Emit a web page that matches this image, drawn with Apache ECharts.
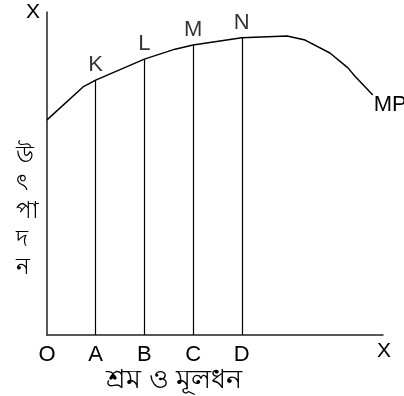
<!DOCTYPE html>
<html>
<head>
<meta charset="utf-8">
<script src="https://cdn.jsdelivr.net/npm/echarts@6/dist/echarts.min.js"></script>
<style>
html,body{margin:0;padding:0;background:#fff;}
#chart{width:404px;height:396px;}
</style>
</head>
<body>
<div id="chart"></div>
<script>
// উৎপাদন রেখা (MP) এর বিন্দুগুলি
var curveX = [0, 0.74, 1, 2, 2.63, 3, 4, 4.93, 5.3, 5.81, 6.18, 6.32, 6.69];
var curveY = [66.6, 76.8, 78.9, 85.4, 88.5, 89.8, 92.0, 92.6, 91.3, 87.3, 82.7, 80.2, 74.3];

// K L M N বিন্দু
var pointNames = ['K', 'L', 'M', 'N'];
var pointX = [1, 2, 3, 4];
var pointY = [78.9, 85.4, 89.8, 92.0];

// x অক্ষের লেবেল
var tickLabels = ['O', 'A', 'B', 'C', 'D'];

var yTitle = ['উ', 'ৎ', 'পা', 'দ', 'ন'];
var xTitle = 'শ্রম ও মূলধন';

var font = 'Liberation Sans, Arial, sans-serif';

var curveData = [];
for (var i = 0; i < curveX.length; i++) {
	curveData.push([curveX[i], curveY[i]]);
}

var dropLines = [];
var pointData = [];
for (var j = 0; j < pointX.length; j++) {
	dropLines.push([{coord: [pointX[j], 0]}, {coord: [pointX[j], pointY[j]]}]);
	pointData.push({value: [pointX[j], pointY[j]], name: pointNames[j]});
}

var chart = echarts.init(document.getElementById('chart'));
var option = {
	animation: false,
	title: [{
		text: yTitle.join('\n'),
		left: 11,
		top: 137,
		textStyle: {fontSize: 23, fontWeight: 'normal', color: '#000', lineHeight: 28}
	}, {
		text: xTitle,
		left: 101,
		top: 362,
		textStyle: {fontSize: 27, fontWeight: 'normal', color: '#000'}
	}],
	grid: {left: 47, right: 21, top: 12, bottom: 61},
	xAxis: {
		type: 'value',
		min: 0,
		max: 6.9,
		interval: 1,
		splitLine: {show: false},
		axisTick: {show: false},
		axisLine: {lineStyle: {color: '#222', width: 1.5}},
		axisLabel: {
			margin: 9,
			showMaxLabel: false,
			fontSize: 22,
			fontFamily: font,
			color: '#000',
			formatter: function (v) { return tickLabels[v] || ''; }
		},
		name: 'X',
		nameLocation: 'end',
		nameGap: 1,
		nameTextStyle: {fontSize: 21, fontFamily: font, color: '#000', align: 'center', verticalAlign: 'top', padding: [6, 0, 0, 0]}
	},
	yAxis: {
		type: 'value',
		min: 0,
		max: 100,
		splitLine: {show: false},
		axisTick: {show: false},
		axisLabel: {show: false},
		axisLine: {show: true, lineStyle: {color: '#222', width: 1.5}},
		name: 'X',
		nameLocation: 'end',
		nameGap: 0,
		nameTextStyle: {fontSize: 21, fontFamily: font, color: '#000', align: 'right', verticalAlign: 'middle', padding: [0, 7, 0, 0]}
	},
	series: [{
		type: 'line',
		data: curveData,
		symbol: 'none',
		lineStyle: {color: '#000', width: 1.5},
		endLabel: {show: true, formatter: 'MP', fontSize: 22, fontFamily: font, color: '#000', offset: [-7, 10]},
		markLine: {
			silent: true,
			symbol: 'none',
			label: {show: false},
			lineStyle: {color: '#000', width: 1.2, type: 'solid'},
			data: dropLines
		}
	}, {
		type: 'scatter',
		data: pointData,
		symbolSize: 0,
		label: {
			show: true,
			position: 'top',
			distance: 4,
			formatter: '{b}',
			fontSize: 22,
			fontFamily: font,
			color: '#000'
		}
	}]
};
chart.setOption(option);
</script>
</body>
</html>
